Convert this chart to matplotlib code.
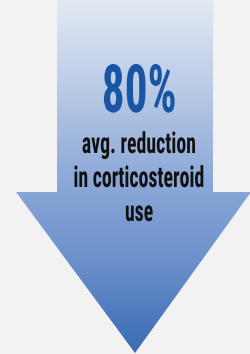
import matplotlib.pyplot as plt
import numpy as np
from matplotlib.patches import Polygon
from matplotlib.colors import LinearSegmentedColormap
from matplotlib.patheffects import AbstractPathEffect
from matplotlib.transforms import Affine2D

# content
stat_value = 80
stat_label = ["avg. reduction", "in corticosteroid", "use"]

# arrow shape (pixel layout)
shaft_x = [57, 213]
head_x = [16, 251]
head_top = 192
tip = [135, 353]
top_y = 0

bg = '#f2f2f2'
grad_cols = ['#e3e9f4', '#b9cbe6', '#8eaad9', '#6a8fcb', '#3a6bb3']


class Squeeze(AbstractPathEffect):
    # narrow the glyphs horizontally around their own centre (condensed face)
    def __init__(self, sx):
        super().__init__()
        self.sx = sx

    def draw_path(self, renderer, gc, tpath, affine, rgbFace=None):
        bb = tpath.get_extents(affine)
        x0 = 0.5 * (bb.x0 + bb.x1)
        sq = Affine2D().translate(-x0, 0).scale(self.sx, 1).translate(x0, 0)
        renderer.draw_path(gc, tpath, affine + sq, rgbFace)


W, H = 251, 354
fig = plt.figure(figsize=(W/100, H/100), dpi=100, facecolor=bg)
ax = fig.add_axes([0, 0, 1, 1])
ax.axis('off')

verts = [(shaft_x[0], top_y), (shaft_x[1], top_y), (shaft_x[1], head_top),
         (head_x[1], head_top), (tip[0], tip[1]), (head_x[0], head_top),
         (shaft_x[0], head_top)]
arrow = Polygon(verts, closed=True, facecolor='none', edgecolor='none')
ax.add_patch(arrow)

cmap = LinearSegmentedColormap.from_list('g', grad_cols)
grad = np.linspace(0, 1, 256).reshape(-1, 1)
im = ax.imshow(grad, cmap=cmap, extent=[0, W, tip[1], top_y], aspect='auto',
               origin='upper', interpolation='bilinear')
im.set_clip_path(arrow)
ax.set_xlim(0, W)
ax.set_ylim(H, 0)

fam = ['Roboto Condensed', 'Archivo Narrow', 'DejaVu Sans']
ax.text(139, 112, f'{stat_value}%', ha='center', va='baseline', fontsize=48,
        fontweight='bold', color='#1a55a3', family=fam,
        path_effects=[Squeeze(0.68)])
base_y = [153, 187, 221]
for s, y in zip(stat_label, base_y):
    ax.text(139, y, s, ha='center', va='baseline', fontsize=21,
            fontweight='bold', color='#111111', family=fam,
            path_effects=[Squeeze(0.68)])

fig.savefig('out.png', dpi=100, facecolor=bg)
